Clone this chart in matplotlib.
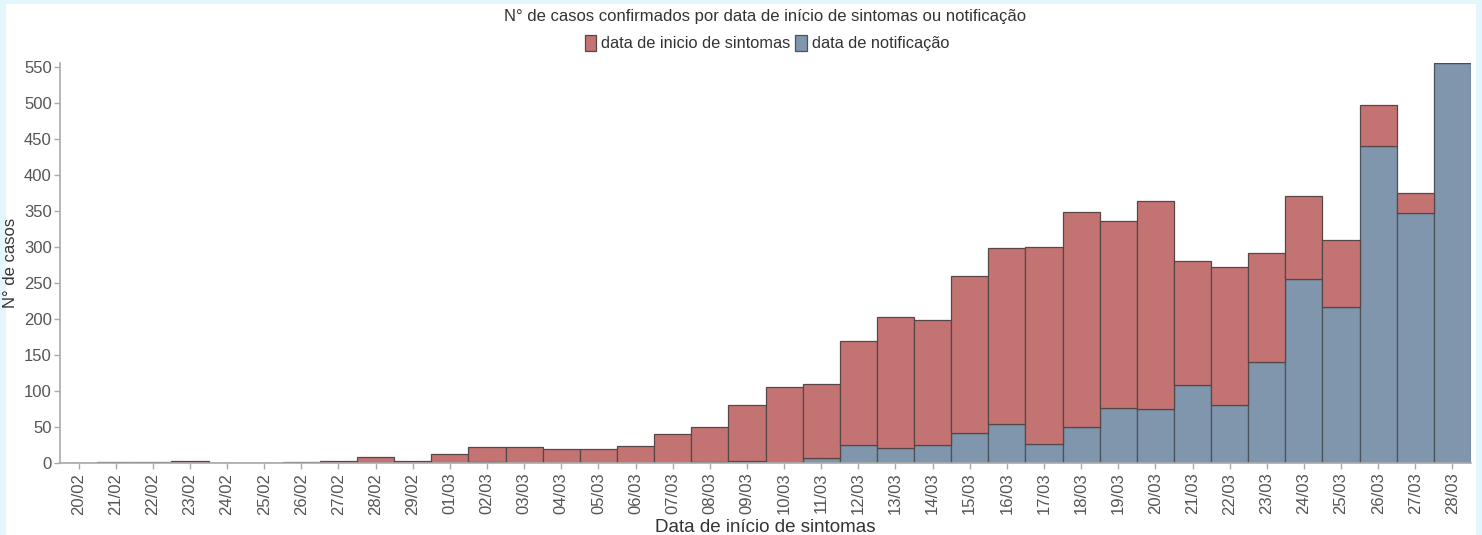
import matplotlib.pyplot as plt
from matplotlib.patches import Rectangle
import numpy as np

plt.rcParams['font.family'] = ['Liberation Sans', 'DejaVu Sans']

datas = ['20/02', '21/02', '22/02', '23/02', '24/02', '25/02', '26/02', '27/02', '28/02', '29/02',
         '01/03', '02/03', '03/03', '04/03', '05/03', '06/03', '07/03', '08/03', '09/03', '10/03',
         '11/03', '12/03', '13/03', '14/03', '15/03', '16/03', '17/03', '18/03', '19/03', '20/03',
         '21/03', '22/03', '23/03', '24/03', '25/03', '26/03', '27/03', '28/03']

# totais por dia (sintomas + notificacao)
total = [0, 2, 2, 3, 0, 0, 2, 3, 8, 3,
         12, 22, 22, 19, 19, 23, 40, 50, 80, 105,
         110, 169, 202, 199, 260, 299, 300, 348, 336, 364,
         280, 272, 292, 371, 309, 497, 375, 555]

notificacao = [0, 0, 0, 0, 0, 0, 0, 0, 0, 0,
               0, 2, 0, 0, 0, 0, 0, 2, 3, 0,
               7, 25, 21, 25, 41, 54, 26, 50, 77, 75,
               108, 80, 140, 255, 216, 440, 347, 555]

sintomas = [t - n for t, n in zip(total, notificacao)]

cor_sint = '#c47373'
cor_notif = '#7f96ad'
txt = '#333333'
cinza = '#aaaaaa'

fig = plt.figure(figsize=(14.82, 5.35), dpi=100)
fig.patch.set_facecolor('#e2f6fc')
fig.add_artist(Rectangle((6 / 1482, 0), 1470 / 1482, 531 / 535, transform=fig.transFigure,
                         facecolor='white', edgecolor='none', zorder=-1))

ax = fig.add_axes([60 / 1482, 1 - 463 / 535, 1411 / 1482, 400 / 535])
ax.set_facecolor('white')

x = np.arange(len(datas))
ax.bar(x, notificacao, width=1.0, color=cor_notif, edgecolor='#4a525c', linewidth=0.9,
       label='data de notificação')
ax.bar(x, sintomas, width=1.0, bottom=notificacao, color=cor_sint, edgecolor='#574646', linewidth=0.9,
       label='data de inicio de sintomas')

ax.set_xlim(-0.5, len(datas) - 0.5)
ax.set_ylim(0, 555)
ax.set_yticks(range(0, 551, 50))
ax.set_xticks(x)
ax.set_xticklabels(datas, rotation=90)

for s in ['top', 'right']:
    ax.spines[s].set_visible(False)
for s in ['left', 'bottom']:
    ax.spines[s].set_color(cinza)
    ax.spines[s].set_linewidth(1.2)

ax.tick_params(axis='both', colors=cinza, labelcolor='#555555', labelsize=12, length=4, width=1)
ax.tick_params(axis='x', pad=3)
ax.tick_params(axis='y', pad=2)

ax.set_ylabel('N° de casos', fontsize=12, color=txt, labelpad=4)
ax.set_xlabel('Data de início de sintomas', fontsize=13.5, color=txt, labelpad=3)

fig.text(765 / 1482, 1 - 16 / 535, 'N° de casos confirmados por data de início de sintomas ou notificação',
         ha='center', va='center', fontsize=12, color=txt)

h, l = ax.get_legend_handles_labels()
fig.legend(h[::-1], l[::-1], loc='center', bbox_to_anchor=(767 / 1482, 1 - 43 / 535), ncol=2,
           frameon=False, fontsize=11.8, handlelength=0.7, handleheight=1.1, handletextpad=0.3,
           columnspacing=0.3, labelcolor=txt)

fig.savefig('out.png', dpi=100)
